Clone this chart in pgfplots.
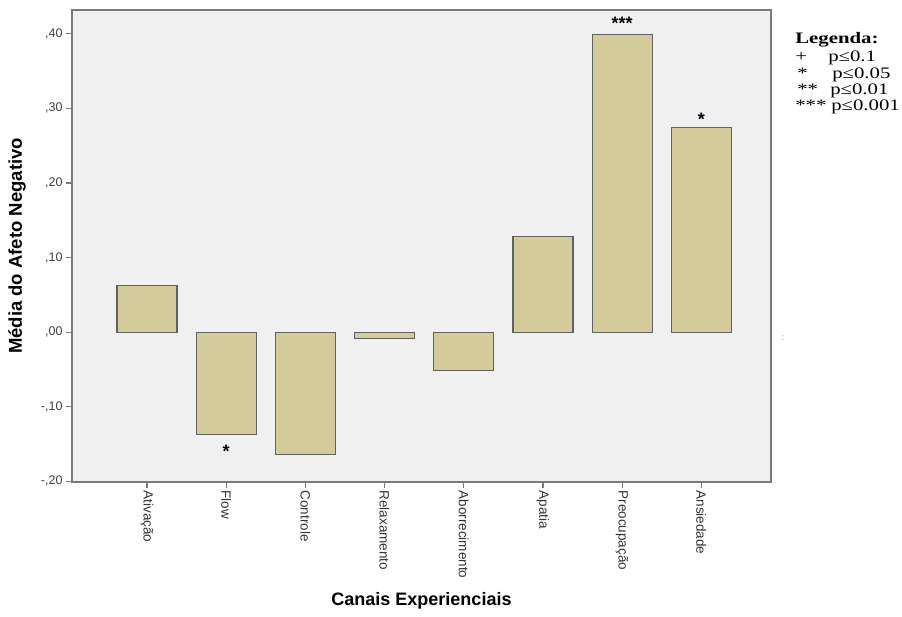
\documentclass[border=0pt]{standalone}
\usepackage{fontspec}
\setmainfont{Liberation Sans}
\newfontfamily\timesf{Liberation Serif}
\usepackage{pgfplots}
\pgfplotsset{compat=1.18}
\definecolor{barfill}{HTML}{D3CC9A}
\definecolor{bg}{HTML}{F0F0F0}
\definecolor{frame}{HTML}{7A7A7A}
\begin{document}
\begin{tikzpicture}[x=1pt,y=1pt]
\path[use as bounding box] (0,0) rectangle (902,616);
\begin{axis}[
 at={(72pt,134pt)}, anchor=south west,
 width=699pt, height=472pt, scale only axis,
 xmin=-0.947, xmax=7.88, ymin=-0.201, ymax=0.432,
 axis background/.style={fill=bg},
 axis line style={draw=frame, line width=1.6pt},
 ybar, bar width=60pt, bar shift=0pt,
 xtick={0,...,7},
 xticklabels={Ativação,Flow,Controle,Relaxamento,Aborrecimento,Apatia,Preocupação,Ansiedade},
 x tick label style={rotate=-90, anchor=west, font=\fontsize{13.5}{15}\selectfont, text=black!80, xshift=-1pt},
 ytick={-0.2,-0.1,0,0.1,0.2,0.3,0.4},
 yticklabels={{-,20},{-,10},{,00},{,10},{,20},{,30},{,40}},
 y tick label style={font=\fontsize{12.5}{14}\selectfont, text=black!75},
 tick align=outside, xtick pos=bottom, ytick pos=left,
 major tick length=6pt, tick style={draw=frame, line width=1.2pt},
 xlabel={Canais Experienciais},
 xlabel style={at={(axis description cs:0.5,0)}, anchor=center, yshift=-119pt, font=\bfseries\fontsize{18}{20}\selectfont},
 ylabel={Média do Afeto Negativo},
 ylabel style={at={(axis description cs:-0.0787,0.5)}, anchor=center, font=\bfseries\fontsize{18.5}{20}\selectfont},
]
\addplot[fill=barfill, draw=black!62, line width=1.2pt] coordinates {
 (0,0.062) (1,-0.137) (2,-0.164) (3,-0.009) (4,-0.052) (5,0.128) (6,0.399) (7,0.274)};
\node[font=\bfseries\fontsize{18}{20}\selectfont] at (axis cs:1,-0.160) {*};
\node[font=\bfseries\fontsize{18}{20}\selectfont] at (axis cs:6,0.414) {***};
\node[font=\bfseries\fontsize{18}{20}\selectfont] at (axis cs:7,0.285) {*};
\end{axis}
\node[font=\fontsize{9}{10}\selectfont, text=black!50] at (783,278) {:};
\begin{scope}[font=\timesf\fontsize{16}{17}\selectfont]
\node[anchor=base west, inner sep=0pt, xscale=1.3, font=\timesf\bfseries\fontsize{16}{17}\selectfont] at (795,572) {Legenda:};
\node[anchor=base west, inner sep=0pt, xscale=1.3] at (795,554) {+};
\node[anchor=base west, inner sep=0pt, xscale=1.3] at (828,554) {p≤0.1};
\node[anchor=base west, inner sep=0pt, xscale=1.3] at (797,537) {*};
\node[anchor=base west, inner sep=0pt, xscale=1.3] at (832,537) {p≤0.05};
\node[anchor=base west, inner sep=0pt, xscale=1.3] at (797,521) {**};
\node[anchor=base west, inner sep=0pt, xscale=1.3] at (830,521) {p≤0.01};
\node[anchor=base west, inner sep=0pt, xscale=1.3] at (795,505) {***};
\node[anchor=base west, inner sep=0pt, xscale=1.3] at (831,505) {p≤0.001};
\end{scope}
\end{tikzpicture}
\end{document}
